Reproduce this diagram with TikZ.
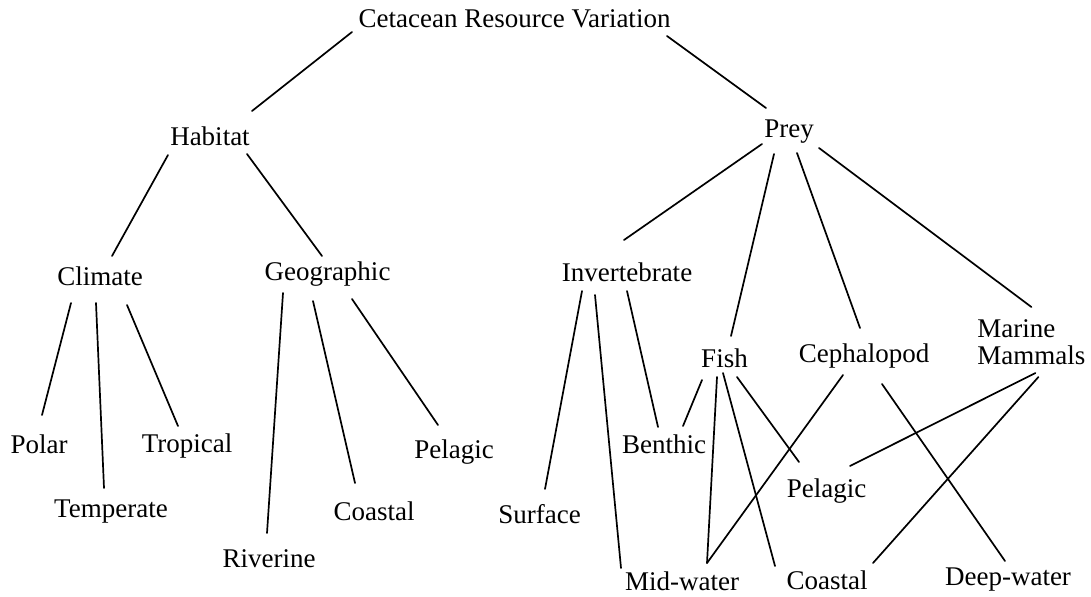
\documentclass[tikz,border=0pt]{standalone}
\usepackage{fontspec}
\setmainfont{Liberation Serif}

\begin{document}
\begin{tikzpicture}[
    x=0.5pt, y=-0.5pt,
    font=\fontsize{13.5}{13.5}\selectfont,
    t/.style={inner sep=0pt, anchor=base},
    l/.style={line width=0.85pt, line cap=round},
]
  \useasboundingbox (0,0) rectangle (1091,596);
  % levels 0--2
  \node[t] (root) at (514.5,27) {Cetacean Resource Variation};
  \node[t] (hab)  at (210,145)  {Habitat};
  \node[t] (prey) at (789,137)  {Prey};
  \node[t] (clim) at (100,285)  {Climate};
  \node[t] (geo)  at (327.5,280) {Geographic};
  \node[t] (inv)  at (627,281)  {Invertebrate};
  \node[t] (fish) at (724.5,367) {Fish};
  \node[t] (ceph) at (864,362)  {Cephalopod};
  \node[t, anchor=base west, align=left] (mam) at (977,364) {Marine\\Mammals};
  % leaves
  \node[t] (polar)  at (39,453)   {Polar};
  \node[t] (temp)   at (111,517)  {Temperate};
  \node[t] (trop)   at (187,452)  {Tropical};
  \node[t] (riv)    at (269,567)  {Riverine};
  \node[t] (gcoast) at (374,520)  {Coastal};
  \node[t] (gpel)   at (454,458)  {Pelagic};
  \node[t] (surf)   at (539.5,523) {Surface};
  \node[t] (benth)  at (664,453)  {Benthic};
  \node[t] (mid)    at (682,590)  {Mid-water};
  \node[t] (ppel)   at (826.5,497) {Pelagic};
  \node[t] (pcoast) at (827,589)  {Coastal};
  \node[t] (deep)   at (1008,585) {Deep-water};
  % habitat side
  \draw[l] ([shift={(-162.5,5)}]root.base) -- ([shift={(42,-34)}]hab.base);
  \draw[l] ([shift={(152.5,9)}]root.base) -- ([shift={(-23,-29)}]prey.base);
  \draw[l] ([shift={(-42,10)}]hab.base) -- ([shift={(12,-29)}]clim.base);
  \draw[l] ([shift={(37,9)}]hab.base) -- ([shift={(-5.5,-24)}]geo.base);
  \draw[l] ([shift={(-29,18)}]clim.base) -- ([shift={(3,-38)}]polar.base);
  \draw[l] ([shift={(-4,18)}]clim.base) -- ([shift={(-7,-29)}]temp.base);
  \draw[l] ([shift={(27,20)}]clim.base) -- ([shift={(-9,-26)}]trop.base);
  \draw[l] ([shift={(-44.5,13)}]geo.base) -- ([shift={(-2,-34)}]riv.base);
  \draw[l] ([shift={(-14.5,21)}]geo.base) -- ([shift={(-19,-37)}]gcoast.base);
  \draw[l] ([shift={(24.5,19)}]geo.base) -- ([shift={(-16,-33)}]gpel.base);
  % prey side
  \draw[l] ([shift={(-27,7)}]prey.base) -- ([shift={(-3,-41)}]inv.base);
  \draw[l] ([shift={(-15,17)}]prey.base) -- ([shift={(6.5,-31)}]fish.base);
  \draw[l] ([shift={(8,16)}]prey.base) -- ([shift={(-4,-34)}]ceph.base);
  \draw[l] ([shift={(30,11)}]prey.base) -- ([shift={(0,-57)}]mam.base);
  \draw[l] ([shift={(-45,10)}]inv.base) -- ([shift={(5.5,-34)}]surf.base);
  \draw[l] ([shift={(-32,14)}]inv.base) -- ([shift={(-61,-22)}]mid.base);
  \draw[l] ([shift={(0,10)}]inv.base) -- ([shift={(-6,-26)}]benth.base);
  \draw[l] ([shift={(-22.5,13)}]fish.base) -- ([shift={(19,-27)}]benth.base);
  \draw[l] ([shift={(-7.5,10)}]fish.base) -- ([shift={(25,-27)}]mid.base);
  \draw[l] ([shift={(-1.5,6)}]fish.base) -- ([shift={(-52,-23)}]pcoast.base);
  \draw[l] ([shift={(12.5,10)}]fish.base) -- ([shift={(-27.5,-35)}]ppel.base);
  \draw[l] ([shift={(-21,13)}]ceph.base) -- ([shift={(25,-27)}]mid.base);
  \draw[l] ([shift={(18,22)}]ceph.base) -- ([shift={(-3,-24)}]deep.base);
  \draw[l] ([shift={(4,9)}]mam.base) -- ([shift={(23.5,-31)}]ppel.base);
  \draw[l] ([shift={(7,13)}]mam.base) -- ([shift={(46,-26)}]pcoast.base);
\end{tikzpicture}
\end{document}
